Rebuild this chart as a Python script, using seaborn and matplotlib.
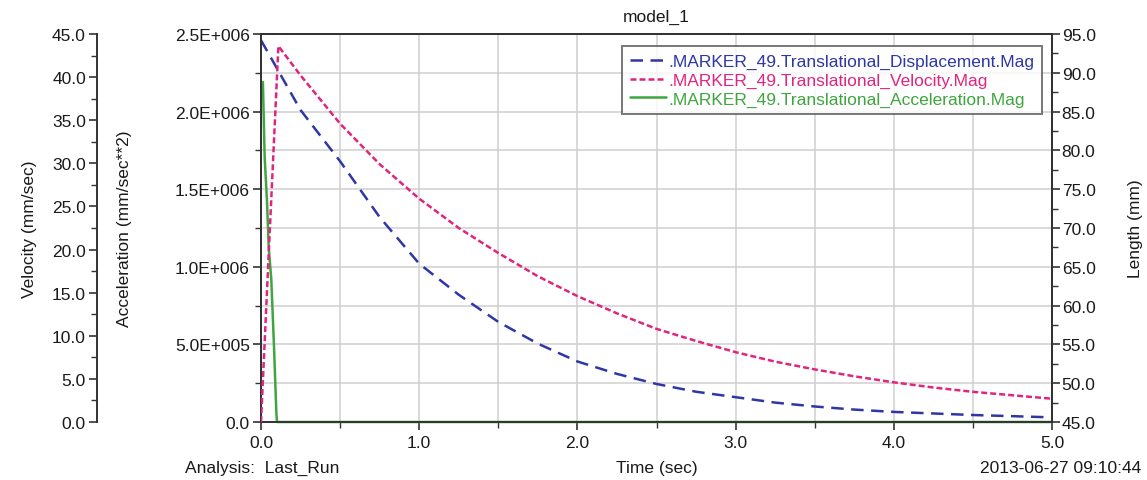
import matplotlib
matplotlib.use("Agg")
import matplotlib.pyplot as plt
import matplotlib.ticker as mticker
import numpy as np
import pandas as pd
import seaborn as sns

# ---- data ----
disp_t = [0.0, 0.1, 0.25, 0.5, 0.75, 1.0, 1.25, 1.5, 1.75, 2.0, 2.25, 2.5,
          2.75, 3.0, 3.25, 3.5, 3.75, 4.0, 4.25, 4.5, 4.75, 5.0]
disp_mm = [94.2, 90.6, 85.2, 78.6, 71.4, 65.4, 61.4, 57.9, 55.1, 52.8, 51.2, 49.9,
           48.9, 48.2, 47.5, 47.0, 46.6, 46.3, 46.1, 45.9, 45.75, 45.6]

vel_t = [0.0, 0.05, 0.11, 0.25, 0.5, 0.75, 1.0, 1.25, 1.5, 1.75, 2.0, 2.25, 2.5,
         2.75, 3.0, 3.25, 3.5, 3.75, 4.0, 4.25, 4.5, 4.75, 5.0]
vel_mms = [0.0, 20.0, 43.6, 40.2, 34.6, 29.9, 25.9, 22.5, 19.6, 16.9, 14.6, 12.6, 10.8,
           9.4, 8.1, 7.0, 6.1, 5.3, 4.6, 4.0, 3.5, 3.1, 2.7]

acc_t = [0.0, 0.012, 0.023, 0.038, 0.049, 0.065, 0.082, 0.097, 0.101, 1.0, 5.0]
acc_val = [2.19e6, 2.19e6, 1.71e6, 1.42e6, 1.12e6, 0.92e6, 0.49e6, 0.06e6, 0.0, 0.0, 0.0]

labels = [".MARKER_49.Translational_Displacement.Mag",
          ".MARKER_49.Translational_Velocity.Mag",
          ".MARKER_49.Translational_Acceleration.Mag"]
x_ticks = [0.0, 1.0, 2.0, 3.0, 4.0, 5.0]
acc_ticks = [0, 5e5, 1e6, 1.5e6, 2e6, 2.5e6]
acc_tick_labels = ["0.0", "5.0E+005", "1.0E+006", "1.5E+006", "2.0E+006", "2.5E+006"]

# ---- styling ----
sns.set_style("ticks")
plt.rcParams['font.family'] = ['Liberation Sans', 'DejaVu Sans']
plt.rcParams['font.size'] = 12.5

BLUE = "#2e37a3"
PINK = "#e0257f"
GREEN = "#3fa63f"
SPINE = "#333333"
TXT = "#1a1a1a"
FS = 12.5

fig = plt.figure(figsize=(11.47, 4.81), dpi=100)
ax = fig.add_axes([0.22755, 0.12058, 0.68963, 0.80665])
ax_len = ax.twinx()
ax_vel = ax.twinx()

df_d = pd.DataFrame({"t": disp_t, "v": disp_mm})
df_v = pd.DataFrame({"t": vel_t, "v": vel_mms})
df_a = pd.DataFrame({"t": acc_t, "v": acc_val})

sns.lineplot(data=df_a, x="t", y="v", ax=ax, color=GREEN, lw=1.8,
             estimator=None, sort=False, zorder=3, clip_on=False)
sns.lineplot(data=df_d, x="t", y="v", ax=ax_len, color=BLUE, lw=1.8,
             estimator=None, sort=False)
ax_len.lines[-1].set_dashes((5, 3))
sns.lineplot(data=df_v, x="t", y="v", ax=ax_vel, color=PINK, lw=1.8,
             estimator=None, sort=False)
ax_vel.lines[-1].set_dashes((2.4, 1.2))

# x axis
ax.set_xlim(0, 5)
ax.xaxis.set_major_locator(mticker.FixedLocator(x_ticks))
ax.xaxis.set_minor_locator(mticker.MultipleLocator(0.5))
ax.xaxis.set_major_formatter(mticker.FormatStrFormatter("%.1f"))

# main (acceleration) axis
ax.set_ylim(0, 2.5e6)
ax.yaxis.set_major_locator(mticker.FixedLocator(acc_ticks))
ax.yaxis.set_major_formatter(mticker.FixedFormatter(acc_tick_labels))
ax.yaxis.set_minor_locator(mticker.MultipleLocator(2.5e5))
ax.grid(which="both", color="#cfcfcf", lw=1.1)
ax.set_axisbelow(True)

# length axis (right)
ax_len.set_ylim(45, 95)
ax_len.yaxis.set_major_locator(mticker.MultipleLocator(5))
ax_len.yaxis.set_minor_locator(mticker.MultipleLocator(2.5))
ax_len.yaxis.set_major_formatter(mticker.FormatStrFormatter("%.1f"))

# velocity axis (far left)
ax_vel.set_ylim(0, 45)
ax_vel.spines["left"].set_position(("axes", -0.2073))
ax_vel.spines["left"].set_visible(True)
ax_vel.spines["right"].set_visible(False)
ax_vel.spines["top"].set_visible(False)
ax_vel.spines["bottom"].set_visible(False)
ax_vel.yaxis.set_ticks_position("left")
ax_vel.yaxis.set_label_position("left")
ax_vel.yaxis.set_major_locator(mticker.MultipleLocator(5))
ax_vel.yaxis.set_minor_locator(mticker.MultipleLocator(2.5))
ax_vel.yaxis.set_major_formatter(mticker.FormatStrFormatter("%.1f"))

for a in (ax, ax_len, ax_vel):
    for s in a.spines.values():
        s.set_color(SPINE)
        s.set_linewidth(1.4)
    a.tick_params(which="major", length=6, width=1.2, color=SPINE,
                  labelsize=FS, labelcolor=TXT, direction="out", pad=2)
    a.tick_params(which="minor", length=4, width=1.0, color=SPINE, direction="out")
    a.set_ylabel("")
    a.set_xlabel("")

ax_len.tick_params(axis="y", pad=1)
ax.tick_params(axis="x", pad=3)

ax_vel.set_ylabel("Velocity (mm/sec)", fontsize=FS, color=TXT)
ax_vel.yaxis.set_label_coords(-0.283, 0.5)
ax.set_ylabel("Acceleration (mm/sec**2)", fontsize=FS, color=TXT)
ax.yaxis.set_label_coords(-0.163, 0.5)
ax_len.set_ylabel("Length (mm)", fontsize=FS, color=TXT)
ax_len.yaxis.set_label_coords(1.096, 0.5)
ax.set_xlabel("Time (sec)", fontsize=FS, color=TXT)
ax.xaxis.set_label_coords(0.5, -0.098)

fig.text(0.572, 0.9647, "model_1", ha="center", va="center", fontsize=FS, color=TXT)
fig.text(0.161, 0.027, "Analysis:  Last_Run", ha="left", va="center", fontsize=FS, color=TXT)
fig.text(0.9948, 0.027, "2013-06-27 09:10:44", ha="right", va="center", fontsize=FS, color=TXT)

# legend
handles = [ax_len.lines[-1], ax_vel.lines[-1], ax.lines[0]]
leg = ax_vel.legend(handles, labels, loc="upper right", bbox_to_anchor=(0.987, 0.969),
                    fontsize=FS, frameon=True, fancybox=False, handlelength=2.1,
                    handletextpad=0.1, labelspacing=0.2, borderpad=0.45,
                    labelcolor="linecolor", borderaxespad=0)
leg.get_frame().set_edgecolor("#555555")
leg.get_frame().set_linewidth(1.4)
leg.set_zorder(10)

fig.savefig("out.png", dpi=100)
